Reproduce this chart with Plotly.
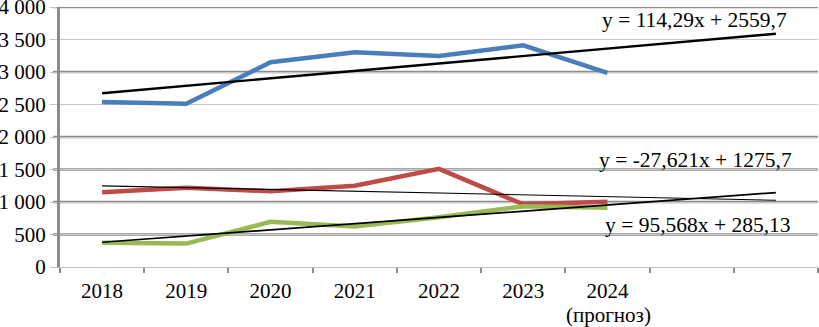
import plotly.graph_objects as go

years = ["2018", "2019", "2020", "2021", "2022", "2023", "2024"]
forecast_note = "(прогноз)"
blue = [2540, 2510, 3150, 3305, 3245, 3410, 2985]
red = [1150, 1220, 1165, 1250, 1510, 965, 1005]
green = [375, 360, 695, 622, 765, 935, 912]

# trend line equations shown on the chart: slope, intercept
trend_blue = (114.29, 2559.7)
trend_red = (-27.621, 1275.7)
trend_green = (95.568, 285.13)
trend_x = [1, 9]  # 7 periods + 2 forecast periods

eq_blue = "y = 114,29x + 2559,7"
eq_red = "y = -27,621x + 1275,7"
eq_green = "y = 95,568x + 285,13"

y_ticks = [0, 500, 1000, 1500, 2000, 2500, 3000, 3500, 4000]
y_ticktext = ["0", "500", "1 000", "1 500", "2 000", "2 500", "3 000", "3 500", "4 000"]
thick_grid = [500, 1000, 1500, 2000, 3000, 4000]

xs = list(range(1, len(years) + 1))
FONT = "Liberation Serif, Times New Roman, serif"
L, R, T, B = 60, 1, 7, 60
PW, PH = 819 - L - R, 327 - T - B

fig = go.Figure()
fig.add_trace(go.Scatter(x=xs, y=blue, mode="lines", line=dict(color="#4a7ebb", width=4.5)))
fig.add_trace(go.Scatter(x=xs, y=red, mode="lines", line=dict(color="#be4b48", width=4.5)))
fig.add_trace(go.Scatter(x=xs, y=green, mode="lines", line=dict(color="#98b954", width=4.5)))

for (k, b), w in [(trend_blue, 2.4), (trend_red, 1.1), (trend_green, 1.7)]:
    fig.add_trace(go.Scatter(x=trend_x, y=[k * x + b for x in trend_x], mode="lines",
                             line=dict(color="#000000", width=w)))

shapes = []
for v in thick_grid:
    shapes.append(dict(type="line", xref="paper", yref="y", x0=-7 / PW, x1=1, y0=v, y1=v,
                       line=dict(color="#8c8c8c", width=2.5), layer="below"))

fig.update_layout(
    width=819, height=327,
    margin=dict(l=L, r=R, t=T, b=B),
    paper_bgcolor="white", plot_bgcolor="white",
    showlegend=False,
    font=dict(family=FONT, size=21, color="#000000"),
    shapes=shapes,
    xaxis=dict(
        range=[0.5, 9.5], tickmode="array", tickvals=xs, ticktext=years,
        ticks="", showgrid=False, zeroline=False, automargin=False,
        showline=True, linecolor="#c0c0c0", linewidth=1,
        ticklabelstandoff=5,
        tickfont=dict(family=FONT, size=21),
        minor=dict(tickmode="linear", tick0=0.5, dtick=1, ticks="outside",
                   ticklen=5, tickwidth=2, tickcolor="#8c8c8c", showgrid=False),
    ),
    yaxis=dict(
        range=[0, 4000], tickmode="array", tickvals=y_ticks, ticktext=y_ticktext,
        ticks="outside", ticklen=7, tickcolor="#c0c0c0", tickwidth=1,
        showgrid=True, gridcolor="#c8c8c8", gridwidth=1, zeroline=False, automargin=False,
        showline=True, linecolor="#8c8c8c", linewidth=3,
        ticklabeloverflow="allow",
        tickfont=dict(family=FONT, size=21),
    ),
)

def px_to_paper(xp, yp):
    return (xp - L) / PW, (327 - B - yp) / PH

for txt, xp, yp in [(eq_blue, 694, 20), (eq_red, 695, 160), (eq_green, 698, 225)]:
    x, y = px_to_paper(xp, yp)
    fig.add_annotation(text=txt, xref="paper", yref="paper", x=x, y=y,
                       showarrow=False, xanchor="center", yanchor="middle",
                       font=dict(family=FONT, size=21.5, color="#000000"))

x, y = px_to_paper(608, 315)
fig.add_annotation(text=forecast_note, xref="paper", yref="paper", x=x, y=y,
                   showarrow=False, xanchor="center", yanchor="middle",
                   font=dict(family=FONT, size=21, color="#000000"))

fig.write_html("out.html", config={"displayModeBar": False},
               post_script="document.body.style.margin='0';document.body.style.overflow='hidden';")
